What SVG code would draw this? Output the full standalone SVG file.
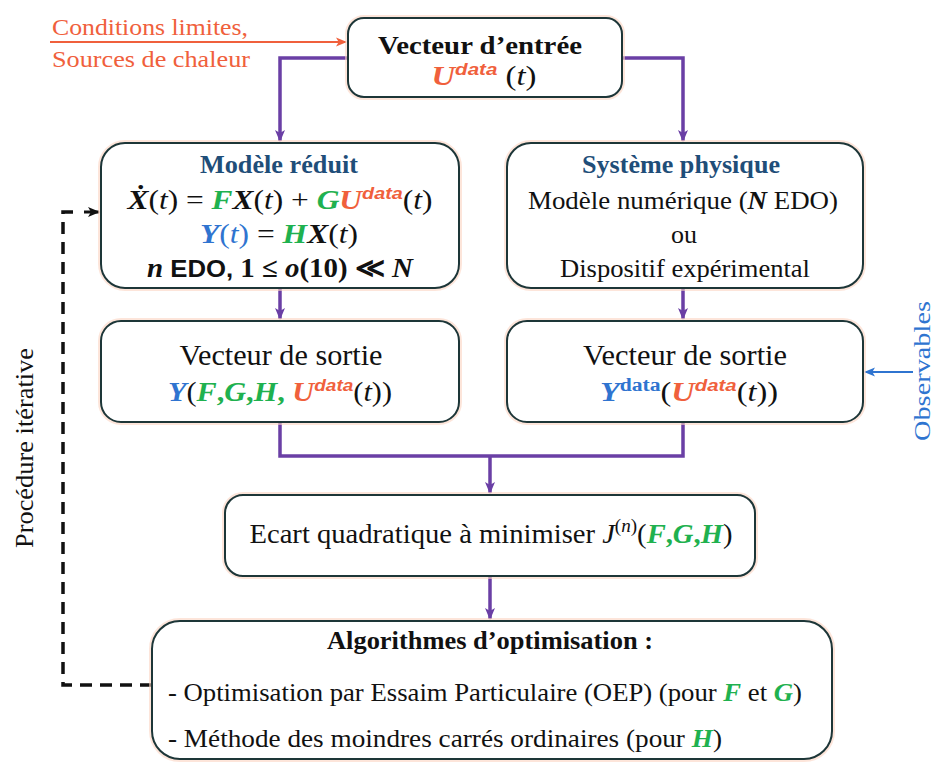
<svg xmlns="http://www.w3.org/2000/svg" width="937" height="762" viewBox="0 0 937 762">
  <style>
    text { font-family: "Liberation Serif", "Times New Roman", "DejaVu Serif", serif; fill: #111; }
    .box { fill: #ffffff; stroke: #1d3638; stroke-width: 2; }
    .halo { fill: none; stroke: #fbd3c2; stroke-width: 6; opacity: 0.6; }
    .conn { fill: none; stroke: #6a3fa5; stroke-width: 3.5; }
    .dash { fill: none; stroke: #111; stroke-width: 3.5; stroke-dasharray: 12 8; }
    .b { font-weight: bold; }
    .m { font-weight: bold; font-style: italic; }
    .i { font-style: italic; }
    .red { fill: #f0603c; }
    .grn { fill: #1fb14f; }
    .blu { fill: #2f74d0; }
    .navy { fill: #1f4e79; }
    .sans { font-family: "Liberation Sans", Arial, sans-serif; }
  </style>
  <defs>
    <marker id="ap" viewBox="0 0 12 12" refX="11" refY="6" markerWidth="12" markerHeight="12" markerUnits="userSpaceOnUse" orient="auto">
      <path d="M0,1 L12,6 L0,11 L3,6 Z" fill="#6a3fa5"/>
    </marker>
    <marker id="ak" viewBox="0 0 12 12" refX="11" refY="6" markerWidth="12" markerHeight="12" markerUnits="userSpaceOnUse" orient="auto">
      <path d="M0,1 L12,6 L0,11 L3,6 Z" fill="#111"/>
    </marker>
    <marker id="ar" viewBox="0 0 12 12" refX="11" refY="6" markerWidth="11" markerHeight="11" markerUnits="userSpaceOnUse" orient="auto">
      <path d="M0,1 L12,6 L0,11 L3,6 Z" fill="#f0603c"/>
    </marker>
    <marker id="ab" viewBox="0 0 12 12" refX="11" refY="6" markerWidth="11" markerHeight="11" markerUnits="userSpaceOnUse" orient="auto">
      <path d="M0,1 L12,6 L0,11 L3,6 Z" fill="#2f74d0"/>
    </marker>
  </defs>

  <rect width="937" height="762" fill="#ffffff"/>

  <!-- connectors -->
  <g id="connectors">
    <path class="conn" d="M348,58 H280 V141" marker-end="url(#ap)"/>
    <path class="conn" d="M622,58 H683 V141" marker-end="url(#ap)"/>
    <path class="conn" d="M280,288 V319" marker-end="url(#ap)"/>
    <path class="conn" d="M683,288 V319" marker-end="url(#ap)"/>
    <path class="conn" d="M280,422 V456 H683 V422"/>
    <path class="conn" d="M490,456 V493" marker-end="url(#ap)"/>
    <path class="conn" d="M490,576 V619" marker-end="url(#ap)"/>
    <!-- iterative loop -->
    <path class="dash" d="M152,685 H63 V212 H80"/>
    <path d="M84,212 H99" stroke="#111" stroke-width="3" marker-end="url(#ak)"/>
    <!-- inputs and observations -->
    <path d="M50,42 H346" stroke="#f0603c" stroke-width="2" marker-end="url(#ar)"/>
    <path d="M913,372 H865" stroke="#2f74d0" stroke-width="2" marker-end="url(#ab)"/>
  </g>

  <!-- side labels -->
  <g id="label-inputs">
    <text x="52" y="35" font-size="24" textLength="196" lengthAdjust="spacingAndGlyphs" class="red">Conditions limites,</text>
    <text x="52" y="67" font-size="24" textLength="198" lengthAdjust="spacingAndGlyphs" class="red">Sources de chaleur</text>
  </g>
  <g id="label-iterative">
    <text transform="translate(33,448) rotate(-90)" text-anchor="middle" font-size="25" textLength="200" lengthAdjust="spacingAndGlyphs" fill="#333">Procédure itérative</text>
  </g>
  <g id="label-observables">
    <text transform="translate(930,371) rotate(-90)" text-anchor="middle" font-size="24" textLength="140" lengthAdjust="spacingAndGlyphs" class="blu">Observables</text>
  </g>

  <!-- input vector -->
  <g id="input-vector">
    <rect class="halo" x="348" y="18" width="274" height="79" rx="16"/>
    <rect class="box" x="348" y="18" width="274" height="79" rx="16"/>
    <text x="480" y="54" text-anchor="middle" font-size="26" textLength="204" lengthAdjust="spacingAndGlyphs" class="b">Vecteur d’entrée</text>
    <text x="484" y="85" text-anchor="middle" font-size="27" textLength="105" lengthAdjust="spacingAndGlyphs"><tspan class="m red">U</tspan><tspan class="m red sans" font-size="17" dy="-10">data</tspan><tspan dy="10"> (</tspan><tspan class="i">t</tspan>)</text>
  </g>

  <!-- reduced model -->
  <g id="reduced-model">
    <rect class="halo" x="101" y="143" width="358" height="145" rx="24"/>
    <rect class="box" x="101" y="143" width="358" height="145" rx="24"/>
    <text x="279" y="173" text-anchor="middle" font-size="25" textLength="158" lengthAdjust="spacingAndGlyphs" class="b navy">Modèle réduit</text>
    <text x="280" y="209" text-anchor="middle" font-size="27" textLength="305" lengthAdjust="spacingAndGlyphs"><tspan class="m">Ẋ</tspan>(<tspan class="i">t</tspan>) = <tspan class="m grn">F</tspan><tspan class="m">X</tspan>(<tspan class="i">t</tspan>) + <tspan class="m grn">G</tspan><tspan class="m red">U</tspan><tspan class="m red sans" font-size="17" dy="-10">data</tspan><tspan dy="10">(</tspan><tspan class="i">t</tspan>)</text>
    <text x="279" y="243" text-anchor="middle" font-size="27" textLength="158" lengthAdjust="spacingAndGlyphs"><tspan class="m blu">Y</tspan><tspan class="blu">(</tspan><tspan class="i blu">t</tspan><tspan class="blu">)</tspan> = <tspan class="m grn">H</tspan><tspan class="m">X</tspan>(<tspan class="i">t</tspan>)</text>
    <text x="280" y="277" text-anchor="middle" font-size="27" textLength="266" lengthAdjust="spacingAndGlyphs" class="b"><tspan class="m">n</tspan><tspan class="sans" font-size="24"> EDO, </tspan>1 ≤ <tspan class="m">o</tspan>(10) ≪ <tspan class="m">N</tspan></text>
  </g>

  <!-- physical system -->
  <g id="physical-system">
    <rect class="halo" x="507" y="143" width="356" height="145" rx="24"/>
    <rect class="box" x="507" y="143" width="356" height="145" rx="24"/>
    <text x="681" y="173" text-anchor="middle" font-size="25" textLength="198" lengthAdjust="spacingAndGlyphs" class="b navy">Système physique</text>
    <text x="683" y="209" text-anchor="middle" font-size="26" textLength="310" lengthAdjust="spacingAndGlyphs">Modèle numérique (<tspan class="m">N</tspan> EDO)</text>
    <text x="684" y="243" text-anchor="middle" font-size="26">ou</text>
    <text x="685" y="277" text-anchor="middle" font-size="26" textLength="250" lengthAdjust="spacingAndGlyphs">Dispositif expérimental</text>
  </g>

  <!-- model output -->
  <g id="model-output">
    <rect class="halo" x="101" y="321" width="358" height="101" rx="20"/>
    <rect class="box" x="101" y="321" width="358" height="101" rx="20"/>
    <text x="281" y="365" text-anchor="middle" font-size="29" textLength="203" lengthAdjust="spacingAndGlyphs">Vecteur de sortie</text>
    <text x="280" y="401" text-anchor="middle" font-size="27" textLength="224" lengthAdjust="spacingAndGlyphs"><tspan class="m blu">Y</tspan>(<tspan class="m grn">F</tspan><tspan class="grn b">,</tspan><tspan class="m grn">G</tspan><tspan class="grn b">,</tspan><tspan class="m grn">H</tspan><tspan class="grn b">, </tspan><tspan class="m red">U</tspan><tspan class="m red sans" font-size="17" dy="-10">data</tspan><tspan dy="10">(</tspan><tspan class="i">t</tspan>))</text>
  </g>

  <!-- measured output -->
  <g id="measured-output">
    <rect class="halo" x="507" y="321" width="356" height="101" rx="20"/>
    <rect class="box" x="507" y="321" width="356" height="101" rx="20"/>
    <text x="685" y="365" text-anchor="middle" font-size="29" textLength="204" lengthAdjust="spacingAndGlyphs">Vecteur de sortie</text>
    <text x="689" y="401" text-anchor="middle" font-size="27" textLength="178" lengthAdjust="spacingAndGlyphs"><tspan class="m blu">Y</tspan><tspan class="b blu" font-size="18" dy="-10">data</tspan><tspan dy="10">(</tspan><tspan class="m red">U</tspan><tspan class="m red sans" font-size="17" dy="-10">data</tspan><tspan dy="10">(</tspan><tspan class="i">t</tspan>))</text>
  </g>

  <!-- cost function -->
  <g id="cost-function">
    <rect class="halo" x="225" y="495" width="530" height="81" rx="18"/>
    <rect class="box" x="225" y="495" width="530" height="81" rx="18"/>
    <text x="491" y="543" text-anchor="middle" font-size="27" textLength="483" lengthAdjust="spacingAndGlyphs">Ecart quadratique à minimiser  <tspan class="i">J</tspan><tspan font-size="18" dy="-11">(<tspan class="i">n</tspan>)</tspan><tspan dy="11">(</tspan><tspan class="m grn">F</tspan><tspan class="grn b">,</tspan><tspan class="m grn">G</tspan><tspan class="grn b">,</tspan><tspan class="m grn">H</tspan>)</text>
  </g>

  <!-- optimisation -->
  <g id="optimisation">
    <rect class="halo" x="152" y="621" width="680" height="138" rx="28"/>
    <rect class="box" x="152" y="621" width="680" height="138" rx="28"/>
    <text x="490" y="649" text-anchor="middle" font-size="26" textLength="326" lengthAdjust="spacingAndGlyphs" class="b">Algorithmes d’optimisation :</text>
    <text x="168" y="701" font-size="26" textLength="634" lengthAdjust="spacingAndGlyphs">- Optimisation  par Essaim Particulaire  (OEP) (pour <tspan class="m grn">F</tspan> et <tspan class="m grn">G</tspan>)</text>
    <text x="168" y="747" font-size="26" textLength="554" lengthAdjust="spacingAndGlyphs">- Méthode des moindres carrés ordinaires  (pour <tspan class="m grn">H</tspan>)</text>
  </g>
</svg>
